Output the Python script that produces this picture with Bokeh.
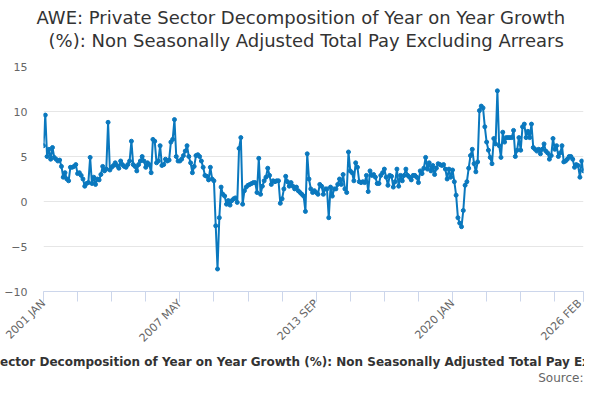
import pandas as pd
from math import pi
from bokeh.plotting import figure
from bokeh.models import Range1d, FixedTicker, Title, ColumnDataSource
from bokeh.embed import file_html
from bokeh.resources import INLINE

# ---------------- data ----------------
start_month = "2001-01"
end_month = "2026-02"

values = [
    6.2, 9.6, 5.0, 5.8, 4.7, 6.0, 4.9, 4.7, 4.5, 4.6,
    3.9, 2.7, 3.2, 2.5, 2.3, 3.8, 3.8, 3.9, 4.1, 3.1,
    3.2, 2.9, 2.5, 1.7, 2.0, 2.1, 4.9, 2.0, 2.7, 1.9,
    2.5, 2.4, 3.0, 3.9, 3.4, 3.6, 8.8, 3.5, 3.8, 4.0,
    4.3, 4.0, 3.7, 4.5, 4.1, 3.9, 3.8, 4.1, 4.5, 6.7,
    4.1, 3.9, 3.4, 4.1, 4.5, 5.0, 4.5, 3.8, 4.3, 4.1,
    3.2, 6.9, 6.7, 4.3, 4.5, 6.2, 4.0, 4.1, 4.7, 4.5,
    4.6, 6.6, 6.9, 9.1, 5.0, 4.5, 4.5, 4.7, 5.1, 5.6,
    6.2, 5.0, 4.3, 3.2, 3.9, 5.1, 5.2, 5.0, 4.5, 3.8,
    2.9, 2.8, 2.4, 3.8, 2.5, 2.3, -2.7, -7.5, -1.8, 1.6,
    0.8, 0.6, -0.3, 0.1, -0.4, 0.1, 0.3, 0.4, -0.1, 5.9,
    7.1, -0.3, 1.2, 1.6, 1.8, 1.9, 2.0, 2.1, 2.1, 1.0,
    4.8, 0.8, 1.7, 2.3, 2.7, 3.7, 2.9, 1.9, 2.3, 2.2,
    2.3, 2.3, -0.2, 0.3, 1.4, 2.8, 2.2, 1.7, 2.1, 1.7,
    1.4, 1.6, 1.2, 1.0, 0.8, 0.6, -1.1, 5.3, 2.5, 1.4,
    1.0, 1.2, 1.0, 0.8, 1.9, 1.7, 0.8, 1.4, 1.4, -1.8,
    1.6, 0.6, 1.4, 1.4, 1.9, 2.5, 1.9, 3.0, 1.4, 1.0,
    5.5, 3.4, 3.2, 2.3, 4.3, 3.8, 2.2, 2.1, 2.2, 2.1,
    2.9, 1.1, 3.4, 2.9, 3.0, 2.7, 2.0, 2.0, 2.9, 3.2,
    3.6, 2.7, 1.8, 2.9, 2.8, 1.6, 2.2, 3.6, 1.7, 2.9,
    2.3, 2.9, 3.6, 2.9, 2.7, 2.4, 2.9, 2.9, 2.7, 2.1,
    3.4, 3.1, 3.7, 4.9, 3.6, 4.3, 3.4, 4.0, 3.0, 3.7,
    4.2, 4.1, 4.0, 4.1, 3.6, 2.5, 3.6, 2.7, 3.5, 2.2,
    0.7, -1.8, -2.4, -2.8, -1.0, 1.8, 2.2, 3.7, 5.1, 5.8,
    4.2, 3.3, 4.4, 10.1, 10.6, 10.4, 8.3, 6.6, 5.7, 4.9,
    4.2, 7.0, 6.4, 12.3, 6.2, 4.9, 7.7, 6.6, 7.1, 7.1,
    7.1, 7.1, 7.9, 5.0, 5.7, 7.1, 5.7, 8.3, 8.6, 7.1,
    7.8, 7.1, 8.6, 6.0, 5.8, 5.6, 5.8, 5.3, 5.8, 6.4,
    5.6, 5.4, 4.7, 5.1, 7.0, 5.8, 6.2, 5.0, 5.4, 6.2,
    4.4, 4.5, 4.7, 5.0, 5.0, 4.7, 3.8, 4.1, 4.0, 2.7,
    4.5, 3.4,
]

tick_labels = ["2001 JAN", "2007 MAY", "2013 SEP", "2020 JAN", "2026 FEB"]
minor_tick_step = 19
y_ticks = [-10, -5, 0, 5, 10, 15]
y_min, y_max = -10, 15

title_lines = [
    "AWE: Private Sector Decomposition of Year on Year Growth",
    "(%): Non Seasonally Adjusted Total Pay Excluding Arrears",
]
series_name = ("AWE: Private Sector Decomposition of Year on Year Growth (%): "
               "Non Seasonally Adjusted Total Pay Excluding Arrears")
source_text = "Source:"

# ---------------- derived ----------------
months = [f"{p.year} {p.strftime('%b').upper()}"
          for p in pd.period_range(start_month, end_month, freq="M")]
n = min(len(months), len(values))
months = months[:n]
vals = values[:n]
idx = list(range(n))
src = ColumnDataSource(dict(x=idx, y=vals, month=months))

tick_pos = [months.index(t) for t in tick_labels if t in months]
minor_pos = list(range(0, n, minor_tick_step)) + [n - 1]

FONT = "DejaVu Sans"
BLUE = "#0a78be"

p = figure(width=584, height=384, output_backend="svg", toolbar_location=None,
           x_range=Range1d(0, n - 1), y_range=Range1d(y_min, y_max),
           min_border_left=43, min_border_right=1,
           min_border_top=66, min_border_bottom=92)
p.outline_line_color = None
p.background_fill_color = "white"
p.border_fill_color = "white"

p.line("x", "y", source=src, line_color=BLUE, line_width=2)
p.scatter("x", "y", source=src, size=4, fill_color=BLUE, line_color=BLUE)

# x axis
xa = p.xaxis[0]
xa.ticker = FixedTicker(ticks=tick_pos, minor_ticks=minor_pos)
xa.major_label_overrides = {pos: lab for pos, lab in zip(tick_pos, tick_labels)}
xa.major_label_orientation = pi / 4
xa.axis_line_color = "#ccd6eb"
xa.major_tick_line_color = "#ccd6eb"
xa.minor_tick_line_color = "#ccd6eb"
xa.major_tick_in = 0
xa.major_tick_out = 10
xa.minor_tick_in = 0
xa.minor_tick_out = 10
xa.major_label_standoff = 0
xa.major_label_text_font = FONT
xa.major_label_text_font_size = "11px"
xa.major_label_text_color = "#666666"

# y axis
ya = p.yaxis[0]
ya.ticker = FixedTicker(ticks=y_ticks)
ya.axis_line_color = None
ya.major_tick_line_color = None
ya.minor_tick_line_color = None
ya.major_tick_in = 0
ya.major_tick_out = 0
ya.major_label_standoff = 16
ya.major_label_text_font = FONT
ya.major_label_text_font_size = "11px"
ya.major_label_text_color = "#666666"

p.xgrid.grid_line_color = None
p.ygrid.grid_line_color = "#e6e6e6"
p.ygrid.ticker = FixedTicker(ticks=y_ticks)

# above panels (first added is closest to the frame): spacer, line 2, line 1
p.add_layout(Title(text=" ", align="left", standoff=0,
                   text_font=FONT, text_font_size="12px", text_font_style="normal",
                   text_color="#ffffff"), "above")
p.add_layout(Title(text=title_lines[1], align="left", offset=5, standoff=0,
                   text_font=FONT, text_font_size="18px", text_font_style="normal",
                   text_color="#333333"), "above")
p.add_layout(Title(text=title_lines[0], align="left", offset=-7, standoff=0,
                   text_font=FONT, text_font_size="18px", text_font_style="normal",
                   text_color="#333333"), "above")

# legend text and source below
p.add_layout(Title(text=series_name, align="left", offset=-144, standoff=0,
                   text_font=FONT, text_font_size="12px", text_font_style="bold",
                   text_color="#333333"), "below")
p.add_layout(Title(text=source_text, align="right", offset=0, standoff=0,
                   text_font=FONT, text_font_size="12px", text_font_style="normal",
                   text_color="#666666"), "below")

open("out.html", "w").write(file_html(p, INLINE))
